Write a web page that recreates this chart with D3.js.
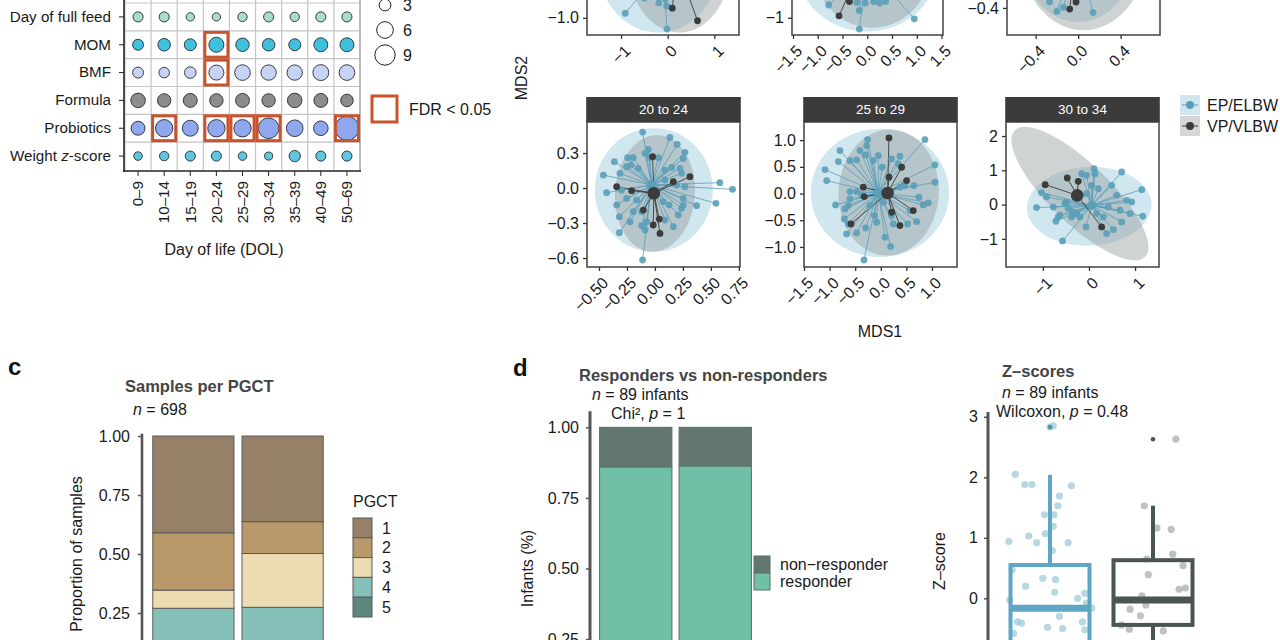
<!DOCTYPE html>
<html><head><meta charset="utf-8">
<script src="https://cdn.jsdelivr.net/npm/d3@7"></script>
<style>body{margin:0;background:#fff}svg{font-family:"Liberation Sans",Arial,sans-serif;display:block}</style>
</head><body><svg id="fig" width="1280" height="640"></svg>
<script>
// ---------------- DATA ----------------
// Panel a: covariate effect sizes per DOL bin
const dolBins = ['0–9','10–14','15–19','20–24','25–29','30–34','35–39','40–49','50–69'];
const covariates = ['Day of full feed','MOM','BMF','Formula','Probiotics','Weight z-score'];
const sizeDayFullFeed = [2.2,2.2,1.5,1.5,1.9,2.2,1.9,2.2,2.2];
const sizeMOM         = [2.6,3.4,3.1,4.9,3.9,3.4,3.1,4.2,4.2];
const sizeBMF         = [2.6,2.4,2.9,4.9,5.3,5.1,5.1,5.5,5.3];
const sizeFormula     = [4.6,3.9,4.2,3.9,4.2,3.9,4.6,4.2,3.4];
const sizeProbiotics  = [4.2,6.5,5.5,6.5,6.5,9.2,6.0,4.6,12.5];
const sizeWeight      = [1.6,1.9,2.2,2.2,1.6,1.4,2.8,2.2,2.2];
const fdrHits = [['MOM','20–24'],['BMF','20–24'],['Probiotics','10–14'],['Probiotics','20–24'],
                 ['Probiotics','25–29'],['Probiotics','30–34'],['Probiotics','50–69']];
const sizeLegendValues = [3,6,9];

// Panel b: MDS facets (points [MDS1, MDS2])
const mdsFacetLabels = ['', '', '', '20 to 24', '25 to 29', '30 to 34'];
const mdsGroups = ['EP/ELBW','VP/VLBW'];
const mdsXDomains = [[-1.73,1.53],[-1.52,1.53],[-0.67,0.77],[-0.607,0.76],[-1.5,1.49],[-1.80,1.52]];
const mdsYDomains = [[-1.35,1.6],[-1.35,1.6],[-0.63,0.6],[-0.677,0.566],[-1.375,1.34],[-1.82,2.41]];
const mdsXTicks = [[-1,0,1],[-1.5,-1,-0.5,0,0.5,1,1.5],[-0.4,0,0.4],[-0.5,-0.25,0,0.25,0.5,0.75],[-1.5,-1,-0.5,0,0.5,1],[-1,0,1]];
const mdsYTicks = [[-1,-0.5,0,0.5,1,1.5],[-1,0,1],[-0.4,0,0.4],[-0.6,-0.3,0,0.3],[-1,-0.5,0,0.5,1],[-1,0,1,2]];
const mdsXFormats = ['d','.1f','.1f','.2f','.1f','d'];
const mdsYFormats = ['.1f','d','.1f','.1f','.1f','d'];

const mdsBlue1 = [[-0.91,-0.907],[-0.015,-1.23],[-0.19,-0.70],[-0.02,-0.76],[-0.5,-0.6],[0.3,-0.55],[-0.05,-0.62]];
const mdsDark1 = [[0.1,-0.805],[0.64,-1.06]];
const mdsBlue2 = [[-0.78,-0.74],[-0.16,-0.85],[-0.16,-1.23],[0.95,-1.02],[-0.21,-0.69],[-0.04,-0.70],[0.13,-0.67],[0.25,-0.70],[0.37,-0.67]];
const mdsDark2 = [[-0.57,-0.96],[-0.36,-0.67]];
const mdsBlue3 = [[-0.27,-0.348],[-0.20,-0.43],[-0.14,-0.395],[0.14,-0.44]];
const mdsDark3 = [[-0.08,-0.41],[-0.02,-0.35]];
const mdsBlue4 = [[-0.11,0.48],[0.134,0.434],[0.199,0.374],[0.268,0.306],[0.253,0.254],[-0.06,0.331],[-0.089,0.297],
 [-0.045,0.26],[0.03,0.26],[-0.244,0.26],[-0.193,0.26],[-0.363,0.226],[-0.253,0.183],[-0.214,0.197],[-0.149,0.169],
 [-0.3125,0.126],[-0.461,0.111],[-0.432,-0.04],[-0.298,-0.017],[0.089,0.154],[0.149,0.177],[0.223,0.169],[0.238,0.126],
 [0.089,0.069],[0.193,0.026],[0.268,0.011],[0.58,0.046],[0.693,-0.011],[0.545,-0.131],[0.372,-0.151],[0.253,-0.146],
 [0.238,-0.174],[0.128,-0.146],[0.074,-0.117],[-0.342,-0.146],[-0.318,-0.246],[-0.318,-0.383],[-0.223,-0.289],
 [-0.119,-0.203],[-0.074,-0.289],[-0.119,-0.323],[-0.193,-0.203],[0.164,-0.331],[0.089,-0.274],[-0.089,-0.36],
 [-0.11,-0.617],[0.208,-0.231],[0.253,-0.089],[-0.164,-0.103],[-0.253,-0.089]];
const mdsDark4 = [[-0.342,0.011],[-0.208,-0.023],[-0.021,0.269],[0.3125,0.097],[-0.104,-0.189],[-0.015,-0.317],
 [0.045,-0.389],[0.039,-0.266],[0.164,0.054]];
const mdsBlue5 = [[-0.257,1.011],[-0.276,0.899],[-0.406,0.805],[-0.296,0.724],[-0.146,0.618],[-0.797,0.805],
 [-0.829,0.599],[-0.602,0.618],[-0.471,0.63],[-1.09,0.449],[-1.057,0.243],[-0.882,-0.212],[-0.699,-0.287],
 [-0.634,-0.225],[-0.602,-0.1],[-0.602,0.037],[-0.471,0.037],[-0.374,-0.037],[-0.712,-0.474],[-0.634,-0.568],
 [-0.667,-0.755],[-0.471,-0.737],[-0.296,-0.643],[-0.081,-0.537],[0.082,-0.818],[0.193,-0.993],[-0.328,-1.242],
 [0.863,1.011],[1.059,0.537],[1.059,0.212],[0.648,0.15],[0.473,0.15],[0.375,0.119],[0.746,-0.069],[0.928,-0.175],
 [0.831,-0.212],[0.57,-0.318],[0.525,-0.568],[0.7,-0.524],[0.245,-0.568],[0.212,-0.412],[0.342,0.556],[0.212,0.649],
 [0.375,0.699],[0.03,0.493],[-0.048,0.712],[-0.126,-0.412],[-0.211,-0.225],[0.049,-0.162]];
const mdsDark5 = [[0.16,1.042],[0.408,0.493],[0.505,0.243],[0.16,0.306],[-0.341,0.119],[-0.322,-0.056],
 [0.212,-0.35],[0.375,-0.599],[0.635,-0.318],[-0.582,-0.568]];
const mdsBlue6 = [[-1.138,-0.087],[-1.029,0.35],[-0.775,-0.068],[-0.717,-0.485],[-0.63,-0.311],[-0.572,-1.058],
 [-0.522,0.029],[-0.449,-0.117],[-0.377,-0.359],[-0.268,-0.262],[-0.159,0.903],[-0.051,0.854],[0.109,1.049],
 [0.13,0.903],[0.058,0.563],[0.203,0.466],[-0.051,0.32],[0.71,0.951],[0.493,0.563],[0.601,0.272],[0.819,0.126],
 [0.928,0.078],[1.145,0.437],[1.167,-0.34],[0.891,-0.262],[0.71,-0.505],[0.529,-0.728],[0.384,-0.845],[0.312,-0.359],
 [0.167,-0.262],[-0.065,-0.65],[-0.196,-0.359],[-0.341,-0.214],[-0.486,0.078],[-0.667,-0.359],[0.42,-0.068],
 [0.674,-0.165],[-0.92,0.223]];
const mdsDark6 = [[-0.949,0.583],[-0.471,0.777],[-0.232,0.68],[0.275,-0.65],[-0.304,0.223]];
const mdsBluePoints = [mdsBlue1,mdsBlue2,mdsBlue3,mdsBlue4,mdsBlue5,mdsBlue6];
const mdsDarkPoints = [mdsDark1,mdsDark2,mdsDark3,mdsDark4,mdsDark5,mdsDark6];
const mdsBlueCentroids = [[-0.1,0.0],[0,0.05],[0,0.05],[-0.03,0.026],[-0.048,0.01],[0.06,-0.02]];
const mdsDarkCentroids = [[0.2,0.1],[-0.1,0.1],[-0.02,0.05],[-0.01,-0.045],[0.134,0.01],[-0.254,0.27]];
// ellipses: centre, semi-axis vector u, semi-axis vector v (data units)
const mdsBlueEllipses = [
 {c:[-0.2,0.1],u:[1.3,0],v:[0,1.4]},{c:[0,0.1],u:[1.45,0],v:[0,1.38]},{c:[0,0.1],u:[0.55,0],v:[0,0.62]},
 {c:[-0.01,-0.017],u:[0.527,0],v:[0,0.53]},{c:[-0.016,0.012],u:[1.35,0],v:[0,1.2]},{c:[0.007,-0.049],u:[1.35,0.05],v:[0,1.15]}];
const mdsGrayEllipses = [
 {c:[0.25,0.1],u:[1.1,0],v:[0,1.4]},{c:[0.1,0.1],u:[1.2,0],v:[0,1.3]},{c:[0.05,0.1],u:[0.6,0],v:[0,0.69]},
 {c:[0.0,-0.046],u:[0.357,0],v:[0.02,0.5]},{c:[0.154,0.02],u:[0.98,0],v:[0.03,1.18]},{c:[-0.196,0.32],u:[1.413,-1.845],v:[0.46,0.62]}];

// Panel c
const pgctBars = ['A','B'];
const pgctLevels = ['1','2','3','4','5'];
const pgct1 = [0.41, 0.363];
const pgct2 = [0.243, 0.135];
const pgct3 = [0.077, 0.228];
const pgct4 = [0.19, 0.214];
const pgct5 = [0.08, 0.06];
const propTicks = [0.25,0.5,0.75,1.0];

// Panel d
const respBars = ['A','B'];
const responder = [0.86, 0.863];
const nonResponder = [0.14, 0.137];
const respLevels = ['non−responder','responder'];

// Panel e: box stats
const zGroups = ['EP/ELBW','VP/VLBW'];
const zQ1 = [-1.0,-0.44], zMedian = [-0.165,-0.03], zQ3 = [0.55,0.63], zUpper = [2.04,1.53], zLower = [-2.4,-1.5];
const zOutliersEP = [2.83], zOutliersVP = [2.63];
const zJitterEP = [[0,2.83],[0.04,2.85],[-0.44,2.05],[-0.32,1.88],[-0.23,1.88],[0.27,1.86],[0.12,1.69],[0.10,1.53],
 [-0.07,1.38],[0.05,1.38],[0.04,1.19],[-0.27,1.03],[-0.06,1.07],[-0.52,0.94],[-0.17,0.92],[0.23,0.92],[0.03,0.79],
 [-0.48,0.47],[-0.09,0.33],[0.07,0.31],[-0.31,0.2],[0.06,0.1],[-0.51,-0.03],[0.35,0],[0.44,0.08],[0.46,-0.08],
 [0.53,-0.16],[0.12,-0.3],[-0.41,-0.39],[-0.36,-0.41],[0.41,-0.39],[-0.03,-0.48],[0.16,-0.5],[-0.46,-0.58],[0.44,-0.52]];
const zJitterVP = [[-0.11,1.53],[0.05,1.16],[0.23,1.14],[0.25,0.73],[-0.08,0.65],[0.38,0.54],[-0.06,0.39],[0.33,0.15],
 [0.41,0.17],[-0.14,0.04],[-0.09,-0.11],[-0.29,-0.18],[-0.16,-0.29],[-0.40,-0.44],[-0.30,-0.51],[0.13,-0.54],[0.29,2.63]];
const zTicks = [-1,0,1,2,3];

// ---------------- DRAW ----------------
const svg = d3.select('#fig');
const TXT = '#1a1a1a';
const FS = 16;
const defs = svg.append('defs');

// ===== Panel a =====
(function(){
  const x = d3.scaleBand().domain(dolBins).range([125,360]);
  const y = d3.scaleBand().domain(covariates).range([3,170]);
  const r = d3.scaleSqrt().domain([0,9]).range([0,10.2]);
  const rowSizes = [sizeDayFullFeed,sizeMOM,sizeBMF,sizeFormula,sizeProbiotics,sizeWeight];
  const rowFill = ['#a9dcc9','#3fc0dc','#c7d3f4','#8c8c8c','#8fa7ef','#5ec6df'];
  const g = svg.append('g');
  g.selectAll('line.v').data(dolBins.concat(['__end'])).join('line')
    .attr('x1',(d,i)=> i<dolBins.length? x(d): x.range()[1]).attr('x2',(d,i)=> i<dolBins.length? x(d): x.range()[1])
    .attr('y1',-10).attr('y2',170).attr('stroke','#c4c4c4').attr('stroke-width',1.2);
  g.selectAll('line.h').data(covariates).join('line')
    .attr('x1',125).attr('x2',360).attr('y1',d=>y(d)).attr('y2',d=>y(d)).attr('stroke','#c4c4c4').attr('stroke-width',1.2);
  g.append('line').attr('x1',360).attr('x2',360).attr('y1',-10).attr('y2',171).attr('stroke','#9a9a9a');
  const cells = [];
  covariates.forEach((c,ri)=> dolBins.forEach((b,bi)=> cells.push({c,b,v:rowSizes[ri][bi],ri})));
  g.selectAll('circle.cell').data(cells).join('circle')
    .attr('cx',d=>x(d.b)+x.bandwidth()/2).attr('cy',d=>y(d.c)+y.bandwidth()/2).attr('r',d=>r(d.v))
    .attr('fill',d=>rowFill[d.ri]).attr('stroke','#2a2a2a').attr('stroke-width',0.9);
  g.selectAll('rect.fdr').data(fdrHits).join('rect')
    .attr('x',d=>x(d[1])+1.5).attr('y',d=>y(d[0])+1.5).attr('width',x.bandwidth()-3).attr('height',y.bandwidth()-3)
    .attr('fill','none').attr('stroke','#c9532c').attr('stroke-width',3);
  const ya = g.append('g').attr('transform','translate(124,0)').call(d3.axisLeft(y).tickSize(5).tickPadding(8));
  ya.select('.domain').remove();
  ya.selectAll('text').attr('font-size',15.2).attr('fill',TXT).attr('font-family','Liberation Sans, Arial')
    .each(function(d){ if(d==='Weight z-score'){ const t=d3.select(this); t.text('');
      t.append('tspan').text('Weight '); t.append('tspan').attr('font-style','italic').text('z'); t.append('tspan').text('-score'); }});
  ya.selectAll('line').attr('stroke','#222');
  g.append('line').attr('x1',124).attr('x2',124).attr('y1',-10).attr('y2',172).attr('stroke','#222').attr('stroke-width',1.6);
  const xa = g.append('g').attr('transform','translate(0,171)').call(d3.axisBottom(x).tickSize(5));
  xa.select('.domain').remove();
  g.append('line').attr('x1',123).attr('x2',361).attr('y1',171).attr('y2',171).attr('stroke','#222').attr('stroke-width',1.6);
  xa.selectAll('line').attr('stroke','#222');
  xa.selectAll('text').attr('transform','rotate(-90)').attr('text-anchor','end').attr('x',-10).attr('y',0).attr('dy','0.35em')
    .attr('font-size',15.2).attr('fill',TXT).attr('font-family','Liberation Sans, Arial');
  g.append('text').attr('x',224).attr('y',255).attr('text-anchor','middle').attr('font-size',FS).attr('fill',TXT).text('Day of life (DOL)');
  const ly = d3.scalePoint().domain(sizeLegendValues).range([5,55]);
  g.selectAll('circle.leg').data(sizeLegendValues).join('circle')
    .attr('cx',385).attr('cy',d=>ly(d)).attr('r',d=>r(d)).attr('fill','#fff').attr('stroke','#222').attr('stroke-width',1);
  g.selectAll('text.leg').data(sizeLegendValues).join('text')
    .attr('x',403).attr('y',d=>ly(d)).attr('dy','0.35em').attr('font-size',FS).attr('fill',TXT).text(d=>d);
  g.append('rect').attr('x',372).attr('y',96).attr('width',25).attr('height',26).attr('fill','none').attr('stroke','#c9532c').attr('stroke-width',3);
  g.append('text').attr('x',409).attr('y',109).attr('dy','0.35em').attr('font-size',FS).attr('fill',TXT).text('FDR < 0.05');
})();

// ===== Panel b =====
(function(){
  const rects = [[587,739,-110,35],[792,943,-110,35],[1007,1160,-110,35],[587,740,122,267],[804,957,122,267],[1006,1159,122,267]];
  const BLUE='#5a9fb8', DARK='#3c3c3c';
  mdsFacetLabels.forEach((lab,i)=>{
    const [x0,x1,y0,y1] = rects[i];
    const x = d3.scaleLinear().domain(mdsXDomains[i]).range([x0,x1]);
    const y = d3.scaleLinear().domain(mdsYDomains[i]).range([y1,y0]);
    const g = svg.append('g');
    defs.append('clipPath').attr('id','clip'+i).append('rect').attr('x',x0).attr('y',y0).attr('width',x1-x0).attr('height',y1-y0);
    const pg = g.append('g').attr('clip-path','url(#clip'+i+')');
    pg.append('rect').attr('x',x0).attr('y',y0).attr('width',x1-x0).attr('height',y1-y0).attr('fill','#fff');
    const ell = e => { const pts=d3.range(0,101).map(k=>{const t=k/100*2*Math.PI;
        return [x(e.c[0]+e.u[0]*Math.cos(t)+e.v[0]*Math.sin(t)), y(e.c[1]+e.u[1]*Math.cos(t)+e.v[1]*Math.sin(t))];});
      return d3.line()(pts)+'Z'; };
    pg.append('path').attr('d',ell(mdsBlueEllipses[i])).attr('fill','#a9d4e4').attr('fill-opacity',0.55);
    pg.append('path').attr('d',ell(mdsGrayEllipses[i])).attr('fill','#8f9597').attr('fill-opacity',0.42);
    const bc = mdsBlueCentroids[i], dc = mdsDarkCentroids[i];
    pg.selectAll('line.b').data(mdsBluePoints[i]).join('line')
      .attr('x1',d=>x(d[0])).attr('y1',d=>y(d[1])).attr('x2',x(bc[0])).attr('y2',y(bc[1]))
      .attr('stroke',BLUE).attr('stroke-width',0.9).attr('stroke-opacity',0.9);
    pg.selectAll('line.d').data(mdsDarkPoints[i]).join('line')
      .attr('x1',d=>x(d[0])).attr('y1',d=>y(d[1])).attr('x2',x(dc[0])).attr('y2',y(dc[1]))
      .attr('stroke',DARK).attr('stroke-width',1).attr('stroke-opacity',0.9);
    pg.selectAll('circle.b').data(mdsBluePoints[i]).join('circle')
      .attr('cx',d=>x(d[0])).attr('cy',d=>y(d[1])).attr('r',3.4).attr('fill',BLUE).attr('fill-opacity',0.9);
    pg.selectAll('circle.d').data(mdsDarkPoints[i]).join('circle')
      .attr('cx',d=>x(d[0])).attr('cy',d=>y(d[1])).attr('r',3.4).attr('fill',DARK);
    pg.append('circle').attr('cx',x(bc[0])).attr('cy',y(bc[1])).attr('r',4.5).attr('fill',BLUE);
    pg.append('circle').attr('cx',x(dc[0])).attr('cy',y(dc[1])).attr('r',6.3).attr('fill',DARK);
    g.append('rect').attr('x',x0).attr('y',y0).attr('width',x1-x0).attr('height',y1-y0)
      .attr('fill','none').attr('stroke','#4d4d4d').attr('stroke-width',1.6);
    const xa = g.append('g').attr('transform',`translate(0,${y1})`)
      .call(d3.axisBottom(x).tickValues(mdsXTicks[i]).tickFormat(d3.format(mdsXFormats[i])).tickSize(4).tickPadding(4));
    xa.select('.domain').remove();
    xa.selectAll('line').attr('stroke','#333').attr('stroke-width',1.3);
    xa.selectAll('text').attr('font-size',FS).attr('fill',TXT).attr('text-anchor','end').attr('font-family','Liberation Sans, Arial')
      .attr('transform','translate(2,9) rotate(-45)').attr('x',0).attr('y',0).attr('dy','0.7em');
    const yav = g.append('g').attr('transform',`translate(${x0},0)`)
      .call(d3.axisLeft(y).tickValues(mdsYTicks[i]).tickFormat(d3.format(mdsYFormats[i])).tickSize(4).tickPadding(4));
    yav.select('.domain').remove();
    yav.selectAll('line').attr('stroke','#333').attr('stroke-width',1.3);
    yav.selectAll('text').attr('font-size',FS).attr('fill',TXT).attr('font-family','Liberation Sans, Arial');
    yav.selectAll('.tick').filter(d=> y(d)<y0-1 || y(d)>y1+1).remove();
    if(lab){
      g.append('rect').attr('x',x0-0.8).attr('y',y0-25).attr('width',x1-x0+1.6).attr('height',25).attr('fill','#3b3b3b');
      g.append('text').attr('x',(x0+x1)/2).attr('y',y0-12.5).attr('dy','0.35em').attr('text-anchor','middle')
        .attr('font-size',13.5).attr('fill','#fff').text(lab);
    }
  });
  svg.append('text').attr('transform','translate(527,78) rotate(-90)').attr('text-anchor','middle').attr('font-size',FS).attr('fill',TXT).text('MDS2');
  svg.append('text').attr('x',880).attr('y',337).attr('text-anchor','middle').attr('font-size',FS).attr('fill',TXT).text('MDS1');
  const lg = svg.append('g');
  const ly = d3.scalePoint().domain(mdsGroups).range([105,126]);
  const keyBg = ['#d2e6ee','#d6d6d6'], keyCol = [BLUE, DARK];
  lg.selectAll('rect').data(mdsGroups).join('rect').attr('x',1180).attr('y',d=>ly(d)-10).attr('width',20).attr('height',20).attr('fill',(d,i)=>keyBg[i]);
  lg.selectAll('line').data(mdsGroups).join('line').attr('x1',1182).attr('x2',1198).attr('y1',d=>ly(d)).attr('y2',d=>ly(d)).attr('stroke',(d,i)=>keyCol[i]).attr('stroke-width',1);
  lg.selectAll('circle').data(mdsGroups).join('circle').attr('cx',1190).attr('cy',d=>ly(d)).attr('r',4).attr('fill',(d,i)=>keyCol[i]);
  lg.selectAll('text').data(mdsGroups).join('text').attr('x',1207).attr('y',d=>ly(d)).attr('dy','0.35em').attr('font-size',FS).attr('fill',TXT).text(d=>d);
})();

// ===== Panel c =====
(function(){
  const g = svg.append('g');
  const x = d3.scaleBand().domain(pgctBars).range([151,325]).paddingInner(0.09).paddingOuter(0.02);
  const y = d3.scaleLinear().domain([0,1]).range([672,436]);
  const cols = {'1':'#968068','2':'#b99869','3':'#ecdcb1','4':'#86c1b9','5':'#5d877d'};
  const rows = pgctBars.map((b,i)=>({bar:b,'1':pgct1[i],'2':pgct2[i],'3':pgct3[i],'4':pgct4[i],'5':pgct5[i]}));
  const stack = d3.stack().keys(['5','4','3','2','1'])(rows);
  stack.forEach(s=> g.selectAll(null).data(s).join('rect')
    .attr('x',d=>x(d.data.bar)).attr('width',x.bandwidth()).attr('y',d=>y(d[1])).attr('height',d=>y(d[0])-y(d[1]))
    .attr('fill',cols[s.key]).attr('stroke','#5a5a5a').attr('stroke-width',1));
  const ya = g.append('g').attr('transform','translate(142,0)').call(d3.axisLeft(y).tickValues(propTicks).tickFormat(d3.format('.2f')).tickSize(4).tickPadding(8));
  ya.select('.domain').remove();
  ya.selectAll('line').attr('stroke','#555').attr('stroke-width',1.5);
  ya.selectAll('text').attr('font-size',FS).attr('fill',TXT).attr('font-family','Liberation Sans, Arial');
  g.append('line').attr('x1',142).attr('x2',142).attr('y1',y(1.01)).attr('y2',660).attr('stroke','#555').attr('stroke-width',2.6);
  g.append('text').attr('transform',`translate(82,${y(0.5)}) rotate(-90)`).attr('text-anchor','middle').attr('font-size',FS).attr('fill',TXT).text('Proportion of samples');
  g.append('text').attr('x',8).attr('y',375).attr('font-size',24).attr('font-weight','bold').attr('fill','#111').text('c');
  g.append('text').attr('x',125).attr('y',392).attr('font-size',16.5).attr('font-weight','bold').attr('fill','#444').text('Samples per PGCT');
  const nt = g.append('text').attr('x',133).attr('y',415).attr('font-size',FS).attr('fill',TXT);
  nt.append('tspan').attr('font-style','italic').text('n'); nt.append('tspan').text(' = 698');
  const ly = d3.scaleBand().domain(pgctLevels).range([518,617]);
  g.append('text').attr('x',353).attr('y',507).attr('font-size',FS).attr('fill',TXT).text('PGCT');
  g.selectAll('rect.leg').data(pgctLevels).join('rect').attr('x',353).attr('y',d=>ly(d)).attr('width',19).attr('height',ly.bandwidth())
    .attr('fill',d=>cols[d]).attr('stroke','#5a5a5a').attr('stroke-width',1);
  g.selectAll('text.leg').data(pgctLevels).join('text').attr('x',382).attr('y',d=>ly(d)+ly.bandwidth()/2).attr('dy','0.35em')
    .attr('font-size',FS).attr('fill',TXT).text(d=>d);
})();

// ===== Panel d =====
(function(){
  const g = svg.append('g');
  const x = d3.scaleBand().domain(respBars).range([598,753]).paddingInner(0.09).paddingOuter(0.02);
  const y = d3.scaleLinear().domain([0,1]).range([709.7,427.3]);
  const rows = respBars.map((b,i)=>({bar:b,responder:responder[i],nonresp:nonResponder[i]}));
  const cols = {responder:'#72bfa8', nonresp:'#62786e'};
  const stack = d3.stack().keys(['responder','nonresp'])(rows);
  stack.forEach(s=> g.selectAll(null).data(s).join('rect')
    .attr('x',d=>x(d.data.bar)).attr('width',x.bandwidth()).attr('y',d=>y(d[1])).attr('height',d=>y(d[0])-y(d[1]))
    .attr('fill',cols[s.key]).attr('stroke','#5b6e66').attr('stroke-width',1));
  const ya = g.append('g').attr('transform','translate(590,0)').call(d3.axisLeft(y).tickValues(propTicks).tickFormat(d3.format('.2f')).tickSize(4).tickPadding(7));
  ya.select('.domain').remove();
  ya.selectAll('line').attr('stroke','#555').attr('stroke-width',1.5);
  ya.selectAll('text').attr('font-size',FS).attr('fill',TXT).attr('font-family','Liberation Sans, Arial');
  g.append('line').attr('x1',590).attr('x2',590).attr('y1',y(1.057)).attr('y2',650).attr('stroke','#555').attr('stroke-width',3);
  g.append('text').attr('transform',`translate(533,${y(0.5)}) rotate(-90)`).attr('text-anchor','middle').attr('font-size',FS).attr('fill',TXT).text('Infants (%)');
  g.append('text').attr('x',513).attr('y',376).attr('font-size',24).attr('font-weight','bold').attr('fill','#111').text('d');
  g.append('text').attr('x',579).attr('y',381).attr('font-size',16.5).attr('font-weight','bold').attr('fill','#444').text('Responders vs non-responders');
  const nt = g.append('text').attr('x',592).attr('y',400).attr('font-size',FS).attr('fill',TXT);
  nt.append('tspan').attr('font-style','italic').text('n'); nt.append('tspan').text(' = 89 infants');
  const ct = g.append('text').attr('x',611).attr('y',419).attr('font-size',FS).attr('fill',TXT);
  ct.append('tspan').text('Chi²'); ct.append('tspan').text(', '); ct.append('tspan').attr('font-style','italic').text('p'); ct.append('tspan').text(' = 1');
  const ly = d3.scaleBand().domain(respLevels).range([556,590]);
  const lc = ['#62786e','#72bfa8'];
  g.selectAll('rect.leg').data(respLevels).join('rect').attr('x',754).attr('y',d=>ly(d)).attr('width',16).attr('height',ly.bandwidth())
    .attr('fill',(d,i)=>lc[i]).attr('stroke','#5b6e66').attr('stroke-width',1);
  g.selectAll('text.leg').data(respLevels).join('text').attr('x',780).attr('y',d=>ly(d)+ly.bandwidth()/2).attr('dy','0.35em')
    .attr('font-size',FS).attr('fill',TXT).text(d=>d);
})();

// ===== Panel e =====
(function(){
  const g = svg.append('g');
  const x = d3.scalePoint().domain(zGroups).range([1050,1153]);
  const bw = 79;
  const y = d3.scaleLinear().domain([0,3]).range([598.3,416.8]);
  const cols = ['#5fa5c4','#4b5652'];
  const jcols = ['#9fcbd6','#a9aeac'];
  [zJitterEP, zJitterVP].forEach((pts,gi)=>{
    g.selectAll(null).data(pts).join('circle')
      .attr('cx',d=>x(zGroups[gi])+d[0]*bw).attr('cy',d=>y(d[1])).attr('r',3.6)
      .attr('fill',jcols[gi]).attr('fill-opacity',0.75);
  });
  zGroups.forEach((grp,i)=>{
    const cx = x(grp);
    g.append('line').attr('x1',cx).attr('x2',cx).attr('y1',y(zUpper[i])).attr('y2',y(zQ3[i])).attr('stroke',cols[i]).attr('stroke-width',4);
    g.append('line').attr('x1',cx).attr('x2',cx).attr('y1',y(zQ1[i])).attr('y2',y(zLower[i])).attr('stroke',cols[i]).attr('stroke-width',4);
    g.append('rect').attr('x',cx-bw/2).attr('width',bw).attr('y',y(zQ3[i])).attr('height',y(zQ1[i])-y(zQ3[i]))
      .attr('fill','none').attr('stroke',cols[i]).attr('stroke-width',4);
    g.append('line').attr('x1',cx-bw/2).attr('x2',cx+bw/2).attr('y1',y(zMedian[i])).attr('y2',y(zMedian[i])).attr('stroke',cols[i]).attr('stroke-width',7);
  });
  g.selectAll(null).data(zOutliersEP).join('circle').attr('cx',x(zGroups[0])).attr('cy',d=>y(d)).attr('r',2.3).attr('fill','#5a8f98');
  g.selectAll(null).data(zOutliersVP).join('circle').attr('cx',x(zGroups[1])).attr('cy',d=>y(d)).attr('r',2.3).attr('fill','#4b5652');
  const ya = g.append('g').attr('transform','translate(988,0)').call(d3.axisLeft(y).tickValues(zTicks).tickFormat(d3.format('d')).tickSize(4).tickPadding(6));
  ya.select('.domain').remove();
  ya.selectAll('line').attr('stroke','#555').attr('stroke-width',1.5);
  ya.selectAll('text').attr('font-size',FS).attr('fill',TXT).attr('font-family','Liberation Sans, Arial');
  g.append('line').attr('x1',988).attr('x2',988).attr('y1',y(3.08)).attr('y2',660).attr('stroke','#555').attr('stroke-width',3);
  g.append('text').attr('transform','translate(945,561) rotate(-90)').attr('text-anchor','middle').attr('font-size',FS).attr('fill',TXT).text('Z–score');
  g.append('text').attr('x',1002).attr('y',377).attr('font-size',16.5).attr('font-weight','bold').attr('fill','#444').text('Z–scores');
  const nt = g.append('text').attr('x',1002).attr('y',398).attr('font-size',FS).attr('fill',TXT);
  nt.append('tspan').attr('font-style','italic').text('n'); nt.append('tspan').text(' = 89 infants');
  const wt = g.append('text').attr('x',996).attr('y',417).attr('font-size',FS).attr('fill',TXT);
  wt.append('tspan').text('Wilcoxon, '); wt.append('tspan').attr('font-style','italic').text('p'); wt.append('tspan').text(' = 0.48');
})();
</script></body></html>
